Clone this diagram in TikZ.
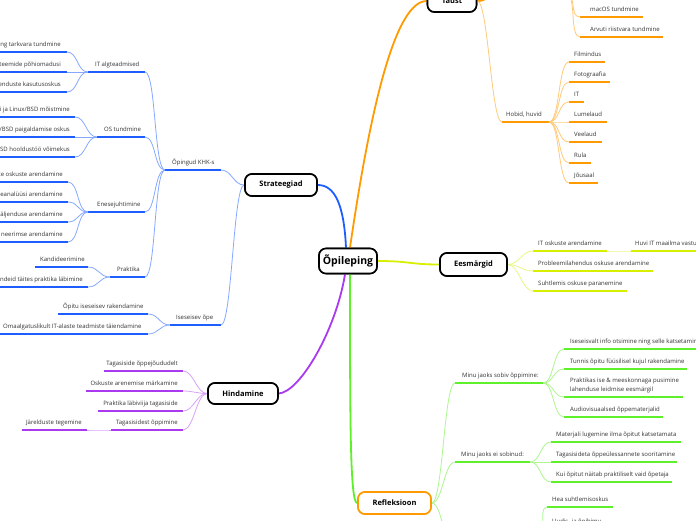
\documentclass[tikz,border=0pt]{standalone}
\usepackage{fontspec}
\setmainfont{Open Sans}
\definecolor{cB}{HTML}{1E5EFF}
\definecolor{cBl}{HTML}{86A9FF}
\definecolor{cO}{HTML}{FF9B00}
\definecolor{cOl}{HTML}{FFCB7A}
\definecolor{cY}{HTML}{D8F000}
\definecolor{cYl}{HTML}{E8F785}
\definecolor{cP}{HTML}{A93AF0}
\definecolor{cPl}{HTML}{D8A2F8}
\definecolor{cG}{HTML}{5EF02A}
\definecolor{cGl}{HTML}{AEF690}
\definecolor{txt}{HTML}{333333}
\newcommand\lfW[7]{\coordinate (#1-l) at (#2,#4);\coordinate (#1-r) at (#3,#4);%
\node[lt,anchor=base west] (#1) at (#5,#4-5.5) {#6};\draw[#7] (#1-l) -- (#1-r);}
\newcommand\lfE[7]{\coordinate (#1-l) at (#2,#4);\coordinate (#1-r) at (#3,#4);%
\node[lt,anchor=base east] (#1) at (#5,#4-5.5) {#6};\draw[#7] (#1-l) -- (#1-r);}
\newcommand\cnL[3]{\draw[#1] (#2) .. controls +(-11,0) and +(11,0) .. (#3);}
\newcommand\cnR[3]{\draw[#1] (#2) .. controls +(11,0) and +(-11,0) .. (#3);}
\begin{document}
\begin{tikzpicture}[x=1pt,y=-1pt,
  lt/.style={font=\fontsize{6}{9}\selectfont, inner sep=0pt, text=txt, align=left},
  mainbox/.style={draw=black, line width=1.6pt, rounded corners=7pt, fill=white,
    minimum height=22pt, inner sep=2pt, font=\bfseries\fontsize{7.5}{9}\selectfont},
  ulB/.style={draw=cB, line width=2pt}, ulO/.style={draw=cO, line width=2pt},
  ulY/.style={draw=cY, line width=2pt}, ulP/.style={draw=cP, line width=2pt},
  ulG/.style={draw=cG, line width=2pt},
  cB1/.style={draw=cBl, line width=0.8pt}, cO1/.style={draw=cOl, line width=0.8pt},
  cY1/.style={draw=cYl, line width=0.8pt}, cP1/.style={draw=cPl, line width=0.8pt},
  cG1/.style={draw=cGl, line width=0.8pt},
  mc/.style={line width=1.8pt}]
\useasboundingbox (0,0) rectangle (696,520);
\fill[white] (0,0) rectangle (696,520);

\coordinate (centpos) at (348,261);

% ---------- Strateegiad branch ----------
\lfW{opi}{165}{221}{170}{172}{Õpingud KHK-s}{ulB}
\lfW{ise}{170}{221}{325}{176}{Iseseisev õpe}{ulB}
\lfW{ita}{88}{145}{72}{95}{IT algteadmised}{ulB}
\lfW{ost}{97}{145}{137}{104}{OS tundmine}{ulB}
\lfW{ene}{88}{145}{212}{97}{Enesejuhtimine}{ulB}
\lfW{pra}{110}{145}{277}{117}{Praktika}{ulB}
\lfE{a1}{-5}{67}{52}{61}{ing tarkvara tundmine}{ulB}
\lfE{a2}{-5}{67}{72}{61}{steemide põhiomadusi}{ulB}
\lfE{a3}{-5}{67}{92}{61}{enduste kasutusoskus}{ulB}
\lfE{b1}{-5}{75}{117}{70}{i ja Linux/BSD mõistmine}{ulB}
\lfE{b2}{-5}{75}{137}{70}{/BSD paigaldamise oskus}{ulB}
\lfE{b3}{-5}{75}{157}{70}{BSD hooldustöö võimekus}{ulB}
\lfE{c1}{-5}{68}{182}{63}{te oskuste arendamine}{ulB}
\lfE{c2}{-5}{68}{202}{63}{eanalüüsi arendamine}{ulB}
\lfE{c3}{-5}{68}{222}{63}{äljenduse arendamine}{ulB}
\lfE{c4}{-5}{68}{242}{63}{neerimse arendamine}{ulB}
\lfW{d1}{35}{88}{267}{40}{Kandideerimine}{ulB}
\lfE{d2}{-5}{88}{287}{83}{andeid täites praktika läbimine}{ulB}
\lfW{e1}{58}{148}{314}{63}{Õpitu iseseisev rakendamine}{ulB}
\lfW{e2}{-5}{148}{334}{3}{Omaalgatuslikult IT-alaste teadmiste täiendamine}{ulB}

% ---------- Taust branch ----------
\lfW{hob}{502}{549}{122}{506}{Hobid, huvid}{ulO}
\lfW{fil}{569}{605}{62}{574}{Filmindus}{ulO}
\lfW{fot}{569}{610}{82}{574}{Fotograafia}{ulO}
\lfW{itt}{569}{584}{102}{574}{IT}{ulO}
\lfW{lum}{569}{607}{122}{574}{Lumelaud}{ulO}
\lfW{vee}{569}{602}{142}{574}{Veelaud}{ulO}
\lfW{rul}{569}{591}{163}{574}{Rula}{ulO}
\lfW{jou}{569}{598}{183}{574}{Jõusaal}{ulO}
\lfW{mac}{580}{643}{17}{590}{macOS tundmine}{ulO}
\lfW{arv}{580}{663}{37}{590}{Arvuti riistvara tundmine}{ulO}
\coordinate (tpar) at (566,-6);
\coordinate (tup) at (492,-6);

% ---------- Eesmargid branch ----------
\lfW{eit}{533}{607}{251}{538}{IT oskuste arendamine}{ulY}
\lfW{hvi}{631}{700}{251}{635}{Huvi IT maailma vastu}{ulY}
\lfW{pro}{533}{653}{271}{538}{Probleemilahendus oskuse arendamine}{ulY}
\lfW{suh}{533}{627}{291}{538}{Suhtlemis oskuse paranemine}{ulY}

% ---------- Hindamine branch ----------
\lfE{h1}{104}{183}{371}{178}{Tagasiside õppejõududelt}{ulP}
\lfE{h2}{86}{183}{391}{178}{Oskuste arenemise märkamine}{ulP}
\lfE{h3}{98}{183}{411}{178}{Praktika läbiviija tagasiside}{ulP}
\lfE{h4}{111}{183}{430}{178}{Tagasisidest õppimine}{ulP}
\lfE{h5}{22}{87}{430}{82}{Järelduste tegemine}{ulP}

% ---------- Refleksioon branch ----------
\lfW{ms}{455}{543}{383}{462}{Minu jaoks sobiv õppimine:}{ulG}
\lfW{g1}{564}{700}{349}{570}{Iseseisvalt info otsimine ning selle katsetamine}{ulG}
\lfW{g2}{564}{687}{369}{570}{Tunnis õpitu füüsilisel kujul rakendamine}{ulG}
\lfW{g3}{564}{683}{397}{570}{Praktikas ise \& meeskonnaga pusimine\\lahenduse leidmise eesmärgil}{ulG}
\lfW{g4}{564}{663}{417}{570}{Audiovisuaalsed õppematerjalid}{ulG}
\lfW{me}{455}{530}{462}{461}{Minu jaoks ei sobinud:}{ulG}
\lfW{k1}{551}{681}{442}{556}{Materjali lugemine ilma õpitut katsetamata}{ulG}
\lfW{k2}{551}{677}{462}{556}{Tagasisideta õppeülessannete sooritamine}{ulG}
\lfW{k3}{551}{672}{482}{556}{Kui õpitut näitab praktiliselt vaid õpetaja}{ulG}
\lfW{hea}{547}{613}{507}{552}{Hea suhtlemisoskus}{ulG}
\lfW{uud}{547}{610}{529}{552}{Uudis- ja õpihimu}{ulG}
\coordinate (rpar-l) at (455,552);
\coordinate (rpar-r) at (540,552);
\draw[ulG] (rpar-l) -- (rpar-r);

% ---------- main nodes ----------
\node[mainbox, minimum width=58pt, minimum height=25pt, font=\bfseries\fontsize{10.5}{12}\selectfont] (cent) at (centpos) {Õpileping};
\node[mainbox, minimum width=72pt] (strat) at (281,185) {Strateegiad};
\node[mainbox, minimum width=49pt] (taust) at (452,1) {Taust};
\node[mainbox, minimum width=67pt, minimum height=23pt] (eesm) at (473.5,264.5) {Eesmärgid};
\node[mainbox, minimum width=70pt, minimum height=21pt] (hind) at (243,393.5) {Hindamine};
\node[mainbox, draw=cO, minimum width=73pt] (refl) at (394.5,503) {Refleksioon};

% ---------- main connectors ----------
\draw[mc, cB] ([xshift=-2pt]cent.north) .. controls (344,205) and (335,185) .. (strat.east);
\draw[mc, cO] ([xshift=2pt]cent.north) .. controls (370,110) and (395,1) .. (taust.west);
\draw[mc, cY] (cent.east) .. controls (410,261) and (410,264.5) .. (eesm.west);
\draw[mc, cP] ([xshift=-3pt]cent.south) .. controls (336,330) and (300,392) .. (hind.east);
\draw[mc, cG] ([xshift=2pt]cent.south) .. controls (350,420) and (350,503) .. (refl.west);
\draw[mc, cO] (taust.east) .. controls +(8,0) and +(-6,4) .. (tup);

% ---------- sub connectors ----------
\cnL{cB1}{strat.west}{opi-r}
\cnL{cB1}{strat.west}{ise-r}
\cnL{cB1}{opi-l}{ita-r}
\cnL{cB1}{opi-l}{ost-r}
\cnL{cB1}{opi-l}{ene-r}
\cnL{cB1}{opi-l}{pra-r}
\cnL{cB1}{ita-l}{a1-r}
\cnL{cB1}{ita-l}{a2-r}
\cnL{cB1}{ita-l}{a3-r}
\cnL{cB1}{ost-l}{b1-r}
\cnL{cB1}{ost-l}{b2-r}
\cnL{cB1}{ost-l}{b3-r}
\cnL{cB1}{ene-l}{c1-r}
\cnL{cB1}{ene-l}{c2-r}
\cnL{cB1}{ene-l}{c3-r}
\cnL{cB1}{ene-l}{c4-r}
\cnL{cB1}{pra-l}{d1-r}
\cnL{cB1}{pra-l}{d2-r}
\cnL{cB1}{ise-l}{e1-r}
\cnL{cB1}{ise-l}{e2-r}

\cnR{cO1}{taust.east}{hob-l}
\cnR{cO1}{hob-r}{fil-l}
\cnR{cO1}{hob-r}{fot-l}
\cnR{cO1}{hob-r}{itt-l}
\cnR{cO1}{hob-r}{lum-l}
\cnR{cO1}{hob-r}{vee-l}
\cnR{cO1}{hob-r}{rul-l}
\cnR{cO1}{hob-r}{jou-l}
\cnR{cO1}{tpar}{mac-l}
\cnR{cO1}{tpar}{arv-l}

\cnR{cY1}{eesm.east}{eit-l}
\cnR{cY1}{eesm.east}{pro-l}
\cnR{cY1}{eesm.east}{suh-l}
\cnR{cY1}{eit-r}{hvi-l}

\cnL{cP1}{hind.west}{h1-r}
\cnL{cP1}{hind.west}{h2-r}
\cnL{cP1}{hind.west}{h3-r}
\cnL{cP1}{hind.west}{h4-r}
\cnL{cP1}{h4-l}{h5-r}

\cnR{cG1}{refl.east}{ms-l}
\cnR{cG1}{refl.east}{me-l}
\cnR{cG1}{refl.east}{rpar-l}
\cnR{cG1}{ms-r}{g1-l}
\cnR{cG1}{ms-r}{g2-l}
\cnR{cG1}{ms-r}{g3-l}
\cnR{cG1}{ms-r}{g4-l}
\cnR{cG1}{me-r}{k1-l}
\cnR{cG1}{me-r}{k2-l}
\cnR{cG1}{me-r}{k3-l}
\cnR{cG1}{rpar-r}{hea-l}
\cnR{cG1}{rpar-r}{uud-l}

% redraw main boxes on top of their connectors
\node[mainbox, minimum width=58pt, minimum height=25pt, font=\bfseries\fontsize{10.5}{12}\selectfont] at (cent) {Õpileping};
\node[mainbox, minimum width=72pt] at (strat) {Strateegiad};
\node[mainbox, minimum width=49pt] at (taust) {Taust};
\node[mainbox, minimum width=67pt, minimum height=23pt] at (eesm) {Eesmärgid};
\node[mainbox, minimum width=70pt, minimum height=21pt] at (hind) {Hindamine};
\node[mainbox, draw=cO, minimum width=73pt] at (refl) {Refleksioon};
\end{tikzpicture}
\end{document}
